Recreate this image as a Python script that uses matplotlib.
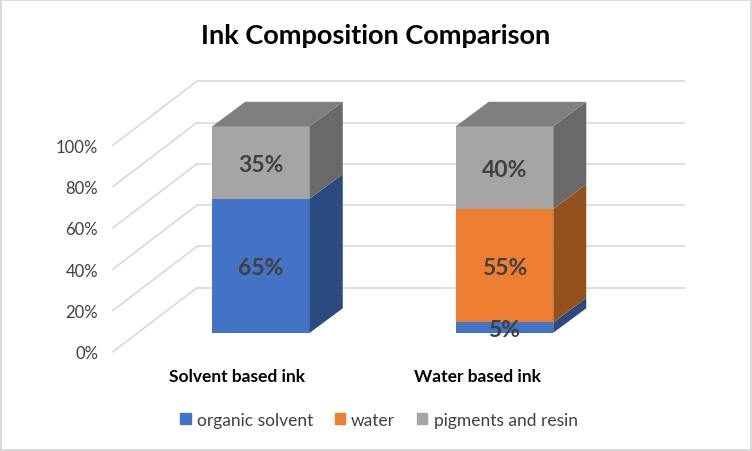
import numpy as np
import matplotlib
matplotlib.use('Agg')
import matplotlib.pyplot as plt
from matplotlib.patches import Rectangle

plt.rcParams['font.family'] = ['Lato', 'DejaVu Sans']

#data
categories = ['Solvent based ink', 'Water based ink']
series_names = ['organic solvent', 'water', 'pigments and resin']
organic_solvent = [65, 5]
water = [0, 55]
pigments_resin = [35, 40]
y_ticks = [0, 20, 40, 60, 80, 100]
tick_labels = ['0%', '20%', '40%', '60%', '80%', '100%']

front_colors = ['#4472C4', '#ED7D31', '#A5A5A5']
side_colors = ['#2A4A80', '#95511C', '#696969']
top_color = '#7F7F7F'
grid_color = '#D9D9D9'
text_color = '#404040'

W, H = 752, 452
fig = plt.figure(figsize=(W / 100, H / 100), dpi=100)
ax = fig.add_axes([0, 0, 1, 1])
ax.axis('off')

# one unit on x = 243.5 px, one percent on y = 2.065 px
xu = 243.5
yu = 2.065
x0_px = 261.0
y0_px = 333.8
ax.set_xlim(-x0_px / xu, (W - x0_px) / xu)
ax.set_ylim((y0_px - H) / yu, y0_px / yu)

bar_w = 97.5 / xu
depth_x = 33 / xu
depth_y = 24.5 / yu

# walls, offsets from the front plane of the bars
wall_left = (197 - x0_px) / xu
wall_right = (685 - x0_px) / xu
side_left = (113 - x0_px) / xu
wall_dy = 45.1 / yu
side_dy = -18.9 / yu

for t, lab in zip(y_ticks, tick_labels):
    ax.plot([wall_left, wall_right], [t + wall_dy, t + wall_dy], color=grid_color, lw=1.2, zorder=1, solid_capstyle='butt')
    ax.plot([side_left, wall_left], [t + side_dy, t + wall_dy], color=grid_color, lw=1.2, zorder=1)
    ax.text((98 - x0_px) / xu, t + side_dy - 0.7, lab, ha='right', va='center', fontsize=12, color=text_color)

#stacked bars with side and top faces
x_pos = np.arange(len(categories))
stacks = [organic_solvent, water, pigments_resin]
bottom = np.zeros(len(categories))
for i, values in enumerate(stacks):
    vals = np.array(values, dtype=float)
    ax.bar(x_pos, vals, bar_w, bottom=bottom, color=front_colors[i], zorder=3)
    for k, x in enumerate(x_pos):
        if vals[k] == 0:
            continue
        r = x + bar_w / 2
        b = bottom[k]
        t = b + vals[k]
        ax.fill([r, r + depth_x, r + depth_x, r], [b, b + depth_y, t + depth_y, t], color=side_colors[i], lw=0, zorder=3)
        ax.text(x, b + vals[k] / 2 - 1.0, '%d%%' % vals[k], ha='center', va='center', fontsize=16.5, fontweight='bold', color=text_color, zorder=5)
    bottom = bottom + vals

for x, t in zip(x_pos, bottom):
    l = x - bar_w / 2
    r = x + bar_w / 2
    ax.fill([l, r, r + depth_x, l + depth_x], [t, t, t + depth_y, t + depth_y], color=top_color, lw=0, zorder=3)

#category labels
label_x = [(236.5 - x0_px) / xu, (477.5 - x0_px) / xu]
label_y = -43.0 / yu
for x, c in zip(label_x, categories):
    ax.text(x, label_y, c, ha='center', va='center', fontsize=12.5, fontweight='bold', color='black')

fig.text(376 / W, 1 - 36 / H, 'Ink Composition Comparison', ha='center', va='center', fontsize=19.5, fontweight='bold', color='black')

handles = [Rectangle((0, 0), 1, 1, color=c) for c in front_colors]
fig.legend(handles, series_names, loc='center', bbox_to_anchor=(379 / W, 1 - 421 / H), ncol=3, frameon=False,
           fontsize=12.5, labelcolor=text_color, handlelength=0.58, handleheight=0.58, handletextpad=0.35, columnspacing=1.28)

#chart border
fig.add_artist(Rectangle((0, 0), 1, 1, transform=fig.transFigure, fill=False, edgecolor=grid_color, lw=2.8))

fig.savefig('out.png', dpi=100)
